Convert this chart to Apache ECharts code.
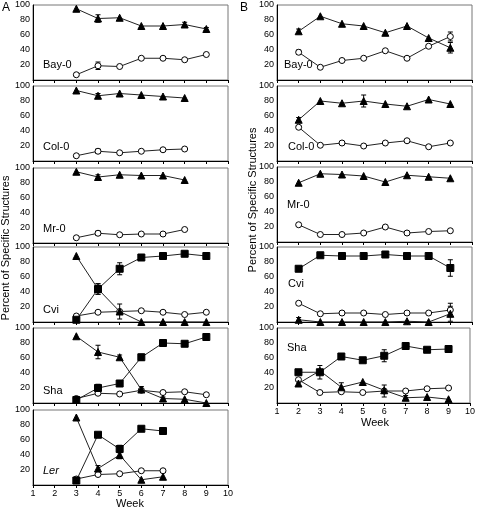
<!DOCTYPE html>
<html><head><meta charset="utf-8">
<script src="https://cdn.jsdelivr.net/npm/echarts@6/dist/echarts.min.js"></script>
<style>html,body{margin:0;padding:0;background:#fff}#c{width:478px;height:510px}</style>
</head><body><div id="c"></div>
<script>
// ---------- data ----------
const weeksA = [3,4,5,6,7,8,9];
const weeksB = [2,3,4,5,6,7,8,9];
const xTicks = [1,2,3,4,5,6,7,8,9,10];
const yTicks = [20,40,60,80,100];

// Column A
const A_Bay0_tri = [95,82,83,72,72,74,68];
const A_Bay0_tri_err = [0,5,0,0,0,3,2];
const A_Bay0_cir = [7,19,18,29,29,27,34];
const A_Bay0_cir_err = [0,5,0,0,0,0,0];

const A_Col0_tri = [94,87,90,88,86,84];
const A_Col0_tri_err = [0,3,0,0,0,0];
const A_Col0_cir = [7,13,11,13,15,16];
const A_Col0_cir_err = [0,3,0,0,0,0];

const A_Mr0_tri = [95,88,91,90,90,84];
const A_Mr0_tri_err = [0,3,0,0,0,0];
const A_Mr0_cir = [7,13,11,12,12,18];
const A_Mr0_cir_err = [0,3,0,0,0,0];

const A_Cvi_tri = [88,44,14,0,0,0,0];
const A_Cvi_tri_err = [0,7,10,0,0,0,0];
const A_Cvi_sq = [3,44,71,86,88,91,88];
const A_Cvi_sq_err = [0,7,8,0,0,0,0];
const A_Cvi_cir = [8,13,14,15,13,10,13];

const A_Sha_tri = [89,68,61,18,6,5,0];
const A_Sha_tri_err = [0,9,3,4,2,0,0];
const A_Sha_sq = [4,20,26,61,80,79,88];
const A_Sha_sq_err = [0,5,0,4,0,0,4];
const A_Sha_cir = [6,13,12,17,14,15,11];

const A_Ler_tri = [90,22,40,7,11];
const A_Ler_tri_err = [0,4,5,0,0];
const A_Ler_sq = [6,67,48,75,72];
const A_Ler_sq_err = [0,3,5,3,0];
const A_Ler_cir = [8,14,15,19,19];

// Column B
const B_Bay0_tri = [65,85,75,72,63,72,56,43];
const B_Bay0_tri_err = [3,0,0,0,0,0,0,7];
const B_Bay0_cir = [37,17,26,29,39,29,45,58];
const B_Bay0_cir_err = [3,0,0,0,0,0,0,6];

const B_Col0_tri = [55,80,77,80,76,73,82,76];
const B_Col0_tri_err = [3,0,0,8,0,0,0,0];
const B_Col0_cir = [45,21,24,20,24,27,19,24];

const B_Mr0_tri = [79,91,90,88,80,89,87,85];
const B_Mr0_cir = [23,10,10,12,20,12,14,15];

const B_Cvi_sq = [71,89,88,88,90,88,88,72];
const B_Cvi_sq_err = [0,0,0,0,0,0,0,11];
const B_Cvi_cir = [25,11,12,12,10,12,12,16];
const B_Cvi_cir_err = [0,0,0,0,0,0,0,9];
const B_Cvi_tri = [3,0,0,0,0,1,0,11];
const B_Cvi_tri_err = [3,0,0,0,0,0,0,10];

const B_Sha_sq = [41,41,62,57,63,76,71,72];
const B_Sha_sq_err = [0,9,0,0,8,3,0,0];
const B_Sha_tri = [26,43,21,28,17,7,8,5];
const B_Sha_tri_err = [0,0,6,0,0,3,0,0];
const B_Sha_cir = [31,14,15,14,16,16,19,20];
const B_Sha_cir_err = [0,0,0,0,8,0,0,0];

// ---------- panels ----------
const panels = [
  {name:'Bay-0', w:weeksA, s:[['tri',A_Bay0_tri,A_Bay0_tri_err],['cir',A_Bay0_cir,A_Bay0_cir_err]]},
  {name:'Col-0', w:weeksA, s:[['tri',A_Col0_tri,A_Col0_tri_err],['cir',A_Col0_cir,A_Col0_cir_err]]},
  {name:'Mr-0', w:weeksA, s:[['tri',A_Mr0_tri,A_Mr0_tri_err],['cir',A_Mr0_cir,A_Mr0_cir_err]]},
  {name:'Cvi', w:weeksA, s:[['cir',A_Cvi_cir,null],['tri',A_Cvi_tri,A_Cvi_tri_err],['sq',A_Cvi_sq,A_Cvi_sq_err]]},
  {name:'Sha', w:weeksA, s:[['cir',A_Sha_cir,null],['tri',A_Sha_tri,A_Sha_tri_err],['sq',A_Sha_sq,A_Sha_sq_err]]},
  {name:'Ler', italic:true, w:weeksA, s:[['cir',A_Ler_cir,null],['tri',A_Ler_tri,A_Ler_tri_err],['sq',A_Ler_sq,A_Ler_sq_err]], bottom:true},
  {name:'Bay-0', w:weeksB, s:[['tri',B_Bay0_tri,B_Bay0_tri_err],['cir',B_Bay0_cir,B_Bay0_cir_err]]},
  {name:'Col-0', w:weeksB, s:[['tri',B_Col0_tri,B_Col0_tri_err],['cir',B_Col0_cir,null]]},
  {name:'Mr-0', w:weeksB, s:[['tri',B_Mr0_tri,null],['cir',B_Mr0_cir,null]]},
  {name:'Cvi', w:weeksB, s:[['cir',B_Cvi_cir,B_Cvi_cir_err],['tri',B_Cvi_tri,B_Cvi_tri_err],['sq',B_Cvi_sq,B_Cvi_sq_err]]},
  {name:'Sha', w:weeksB, s:[['cir',B_Sha_cir,B_Sha_cir_err],['tri',B_Sha_tri,B_Sha_tri_err],['sq',B_Sha_sq,B_Sha_sq_err]], bottom:true}
];
// layout (pixels)
const layout = [
  {l:33,t:5},{l:33,t:86},{l:33,t:168},{l:33,t:247},{l:33,t:328},{l:33,t:410},
  {l:277,t:5},{l:277,t:86},{l:277,t:167},{l:277,t:247},{l:277,t:328}
];
const labelPos = [
  [43,66],[43,148],[43,230],[43,311],[43,392],[43,472],
  [284,66],[288,148],[287,206],[288,285],[287,349]
];
const PW = 195, PH = 75;
const FONT = 'Liberation Sans, Arial, sans-serif';

const grids=[], xAxes=[], yAxes=[], series=[], graphics=[];
const symStyle = {
  tri:{symbol:'triangle', size:7, color:'#000', border:'#000'},
  sq:{symbol:'rect', size:7, color:'#000', border:'#000'},
  cir:{symbol:'circle', size:6, color:'#fff', border:'#000'}
};
function errRender(params, api){
  const x=api.value(0), y=api.value(1), e=api.value(2);
  const c=api.coord([x,y]);
  const hi=api.coord([x,Math.min(100,y+e)]);
  const lo=api.coord([x,Math.max(0,y-e)]);
  const w=2.5, st={stroke:'#000',lineWidth:1};
  return {type:'group',children:[
    {type:'line',shape:{x1:c[0],y1:lo[1],x2:c[0],y2:hi[1]},style:st},
    {type:'line',shape:{x1:c[0]-w,y1:hi[1],x2:c[0]+w,y2:hi[1]},style:st},
    {type:'line',shape:{x1:c[0]-w,y1:lo[1],x2:c[0]+w,y2:lo[1]},style:st}
  ]};
}
panels.forEach((p,i)=>{
  const L=layout[i];
  grids.push({left:L.l, top:L.t, width:PW, height:PH, show:true, borderColor:'#777', borderWidth:1, backgroundColor:'#fff', containLabel:false});
  xAxes.push({gridIndex:i, type:'value', min:1, max:10, interval:1,
    axisLine:{show:true, lineStyle:{color:'#000', width:1}},
    axisTick:{show:true, length:3, lineStyle:{color:'#000'}},
    axisLabel:{show:!!p.bottom, margin:4, fontSize:9, color:'#000', fontFamily:FONT},
    splitLine:{show:false}});
  yAxes.push({gridIndex:i, type:'value', min:0, max:100, interval:20,
    axisLine:{show:true, lineStyle:{color:'#000', width:1}},
    axisTick:{show:false},
    axisLabel:{margin:3, fontSize:9, color:'#000', fontFamily:FONT, formatter:v=>yTicks.includes(v)?String(v):''},
    splitLine:{show:false}});
  p.s.forEach(([kind,vals,err])=>{
    const st=symStyle[kind];
    if(err){
      const ed=[];
      vals.forEach((v,k)=>{ if(err[k]) ed.push([p.w[k], v, err[k]]); });
      series.push({type:'custom', xAxisIndex:i, yAxisIndex:i, renderItem:errRender, data:ed, z:3, silent:true, clip:false});
    }
    series.push({type:'line', xAxisIndex:i, yAxisIndex:i,
      data:vals.map((v,k)=>[p.w[k],v]),
      symbol:st.symbol, symbolSize:st.size, showAllSymbol:true, clip:false,
      lineStyle:{color:'#222', width:1},
      itemStyle:{color:st.color, borderColor:st.border, borderWidth:1},
      z:4, animation:false});
  });
  graphics.push({type:'text', left:labelPos[i][0], top:labelPos[i][1]-7,
    style:{text:p.name, fontSize:11, fontFamily:FONT, fill:'#000', fontStyle:p.italic?'italic':'normal'}});
});
graphics.push({type:'text', left:2, top:2, style:{text:'A', fontSize:12, fontFamily:FONT, fill:'#000'}});
graphics.push({type:'text', left:240, top:2, style:{text:'B', fontSize:12, fontFamily:FONT, fill:'#000'}});
graphics.push({type:'text', x:130, y:504, style:{text:'Week', fontSize:11, fontFamily:FONT, fill:'#000', align:'center', verticalAlign:'middle'}});
graphics.push({type:'text', x:375, y:423, style:{text:'Week', fontSize:11, fontFamily:FONT, fill:'#000', align:'center', verticalAlign:'middle'}});
graphics.push({type:'text', x:6, y:248, rotation:Math.PI/2, style:{text:'Percent of Specific Structures', fontSize:11, fontFamily:FONT, fill:'#000', align:'center', verticalAlign:'middle'}});
graphics.push({type:'text', x:253, y:200, rotation:Math.PI/2, style:{text:'Percent of Specific Structures', fontSize:11, fontFamily:FONT, fill:'#000', align:'center', verticalAlign:'middle'}});

const chart = echarts.init(document.getElementById('c'), null, {renderer:'canvas'});
chart.setOption({animation:false, backgroundColor:'#fff', grid:grids, xAxis:xAxes, yAxis:yAxes, series:series, graphic:graphics});
</script></body></html>
